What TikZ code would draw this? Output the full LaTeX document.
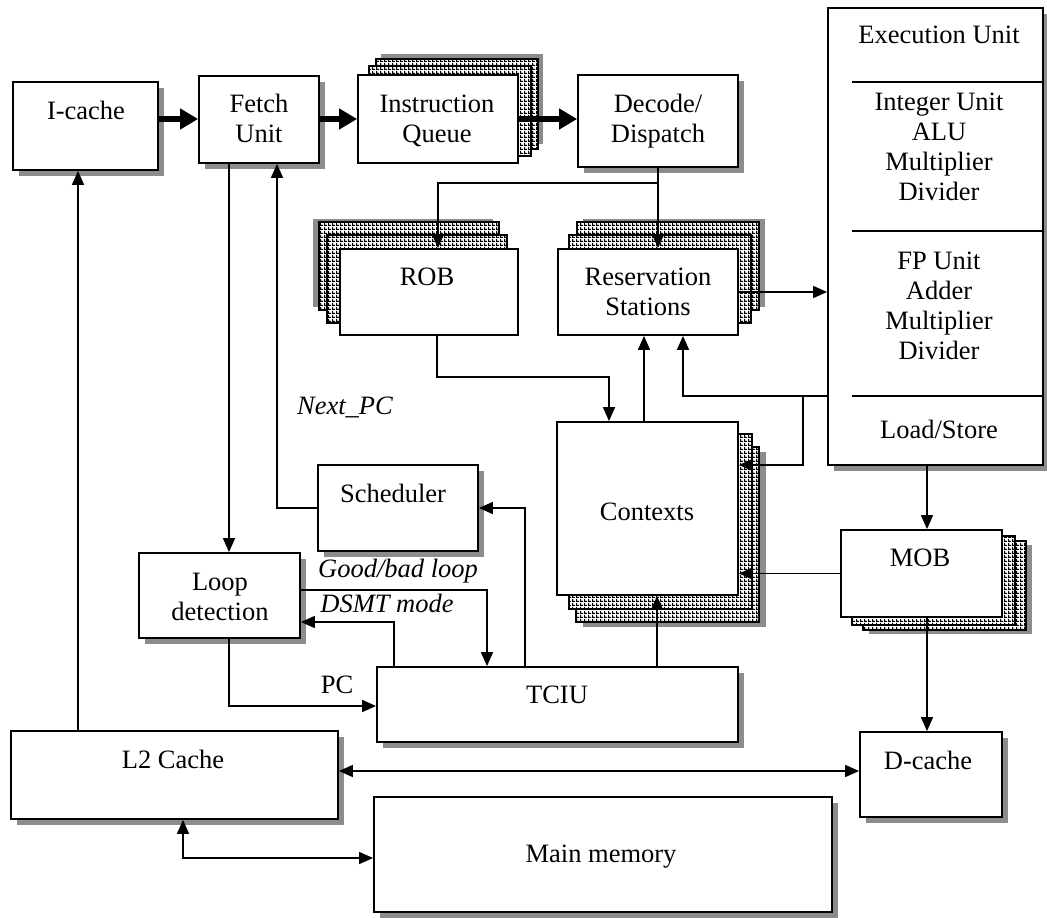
\documentclass[tikz,border=0pt]{standalone}
\usepackage{fontspec}
\setmainfont{Liberation Serif}
\usetikzlibrary{arrows.meta,calc,shadows,patterns,backgrounds}

% small white cells in a black grid, used for the stacked sheets
\pgfdeclarepatternformonly{cells}{\pgfqpoint{0pt}{0pt}}{\pgfqpoint{4pt}{4pt}}{\pgfqpoint{4pt}{4pt}}{%
  \pgfpathrectangle{\pgfqpoint{0pt}{0pt}}{\pgfqpoint{4pt}{1.3pt}}%
  \pgfpathrectangle{\pgfqpoint{0pt}{0pt}}{\pgfqpoint{1.3pt}{4pt}}%
  \pgfusepath{fill}}

% one sheet of a stack, shifted by (#2,#3) from node #1
\newcommand\stacksheet[4]{\path[#4] ($(#1.north west)+(#2,#3)$) rectangle ($(#1.south east)+(#2,#3)$);}

\begin{document}
\begin{tikzpicture}[x=1pt,y=-1pt,
  font=\fontsize{26.5}{30}\selectfont,
  box/.style={draw,line width=1.8pt,fill=white,inner sep=0pt},
  shadowed/.style={drop shadow={shadow xshift=6pt,shadow yshift=-6pt,fill=black!45,opacity=1}},
  lbl/.style={inner sep=0pt,align=center},
  wire/.style={line width=1.6pt},
  arr/.style={wire,-{Triangle[length=14pt,width=12pt]}},
  dbl/.style={wire,{Triangle[length=14pt,width=12pt]}-{Triangle[length=14pt,width=12pt]}},
  bus/.style={line width=5.5pt,-{Triangle[length=18pt,width=20pt]}},
  sheet/.style={draw,line width=1.5pt,fill=white,postaction={pattern=cells}},
  haze/.style={fill=black!45},
]
\useasboundingbox (0,0) rectangle (1047,918);

% ---------- blocks ----------
\node[box,shadowed,minimum width=145pt,minimum height=88pt] (icache) at (85.5,126) {};
\node[box,shadowed,minimum width=120pt,minimum height=87pt] (fetch) at (259,119.5) {};
\node[box,minimum width=160pt,minimum height=88pt] (iq) at (438,119) {};
\node[box,shadowed,minimum width=160pt,minimum height=92pt] (decode) at (658,121) {};
\node[box,shadowed,minimum width=215pt,minimum height=457pt] (exec) at (935.5,236.5) {};
\node[box,minimum width=178pt,minimum height=86pt] (rob) at (429,292) {};
\node[box,minimum width=180pt,minimum height=86pt] (rs) at (648,292) {};
\node[box,minimum width=181pt,minimum height=173pt] (contexts) at (647.5,508.5) {};
\node[box,shadowed,minimum width=160pt,minimum height=86pt] (scheduler) at (398,508) {};
\node[box,shadowed,minimum width=161pt,minimum height=85pt] (loop) at (219.5,595.5) {};
\node[box,minimum width=161pt,minimum height=87pt] (mob) at (921.5,573.5) {};
\node[box,shadowed,minimum width=361pt,minimum height=75pt] (tciu) at (557.5,704.5) {};
\node[box,shadowed,minimum width=327pt,minimum height=88pt] (l2) at (174.5,775) {};
\node[box,shadowed,minimum width=142pt,minimum height=85pt] (dcache) at (931,774.5) {};
\node[box,shadowed,minimum width=458pt,minimum height=115pt] (mainmem) at (603,854.5) {};

% ---------- stacked sheets behind the queues and buffers ----------
\begin{scope}[on background layer]
  \stacksheet{iq}{24}{-20}{haze}
  \stacksheet{iq}{19}{-15}{sheet}
  \stacksheet{iq}{12}{-8}{sheet}
  \stacksheet{rob}{-26}{-29}{haze}
  \stacksheet{rob}{-20}{-26}{sheet}
  \stacksheet{rob}{-12}{-13}{sheet}
  \stacksheet{rs}{26}{-29}{haze}
  \stacksheet{rs}{20}{-26}{sheet}
  \stacksheet{rs}{12}{-13}{sheet}
  \stacksheet{contexts}{27}{31}{haze}
  \stacksheet{contexts}{20}{26}{sheet}
  \stacksheet{contexts}{13}{13}{sheet}
  \stacksheet{mob}{29}{16}{haze}
  \stacksheet{mob}{23}{12}{sheet}
  \stacksheet{mob}{12}{7}{sheet}
\end{scope}

% ---------- execution unit sections ----------
\coordinate (dv) at ([xshift=25pt]exec.west);
\foreach \yy in {82,231,396}
  \draw[line width=1.8pt] (dv |- 0,\yy) -- (exec.east |- 0,\yy);

% ---------- texts ----------
\node[lbl] (icache-t) at (86,110) {I-cache};
\node[lbl] (fetch-t) at (259,118.5) {Fetch\\Unit};
\node[lbl] (iq-t) at (437,121) {Instruction\\Queue};
\node[lbl] (decode-t) at (658,121) {Decode/\\Dispatch};
\node[lbl] (exec-t) at (939,35) {Execution Unit};
\node[lbl] (int-t) at (939,147) {Integer Unit\\ALU\\Multiplier\\Divider};
\node[lbl] (fp-t) at (939,306) {FP Unit\\Adder\\Multiplier\\Divider};
\node[lbl] (ls-t) at (939,429) {Load/Store};
\node[lbl] (rob-t) at (427,277) {ROB};
\node[lbl] (rs-t) at (648,292) {Reservation\\Stations};
\node[lbl] (contexts-t) at (647,512) {Contexts};
\node[lbl] (scheduler-t) at (393,493) {Scheduler};
\node[lbl] (loop-t) at (220,597) {Loop\\detection};
\node[lbl] (mob-t) at (920,558) {MOB};
\node[lbl] (tciu-t) at (557,695) {TCIU};
\node[lbl] (l2-t) at (173,759) {L2 Cache};
\node[lbl] (dcache-t) at (928,760) {D-cache};
\node[lbl] (mainmem-t) at (601,857) {Main memory};
\node[lbl] (nextpc-t) at (345,407) {\itshape Next\_PC};
\node[lbl] (goodbad-t) at (398,571) {\itshape Good/bad loop};
\node[lbl] (dsmt-t) at (387,603) {\itshape DSMT mode};
\node[lbl] (pc-t) at (337,685) {PC};

% ---------- front-end bus ----------
\coordinate (busrow) at (0,119);
\draw[bus] (icache.east |- busrow) -- (fetch.west |- busrow);
\draw[bus] (fetch.east |- busrow) -- (iq.west |- busrow);
\draw[bus] (iq.east |- busrow) -- (decode.west |- busrow);

% ---------- dispatch ----------
\coordinate (dsplit) at (0,183);
\draw[arr] (decode.south) -- (decode.south |- rs.north);
\draw[arr] (decode.south |- dsplit) -| ([xshift=9pt]rob.north);
\draw[arr] (rs.east) -- (rs.east -| exec.west);

% ---------- commit / write-back ----------
\draw[arr] ([xshift=8pt]rob.south) -- ++(0,41) -| ([xshift=-38.5pt]contexts.north);
\draw[arr] ([xshift=-3.5pt]contexts.north) -- ([xshift=-3.5pt]contexts.north |- rs.south);
\coordinate (ret) at (exec.west |- 0,396);
\coordinate (retsplit) at (803,396);
\draw[arr] (ret) -| ([xshift=35pt]rs.south);
\draw[arr] (retsplit) |- ([yshift=43.5pt]contexts.east);
\draw[arr] (mob.west) -- (mob.west -| contexts.east);

% ---------- memory side ----------
\coordinate (mobin) at ([xshift=5.5pt]mob.north);
\draw[arr] (mobin |- exec.south) -- (mobin);
\draw[arr] (mobin |- mob.south) -- (mobin |- dcache.north);

% ---------- thread control ----------
\coordinate (fl) at (229,0);
\coordinate (np) at (277,0);
\coordinate (ts) at (525,0);
\coordinate (gb) at (487,0);
\coordinate (dm) at (394,0);
\coordinate (cb) at ([xshift=9.5pt]contexts.south);
\draw[arr] (fl |- fetch.south) -- (fl |- loop.north);
\draw[arr] (scheduler.west) -| (np |- fetch.south);
\draw[arr] (ts |- tciu.north) |- (scheduler.east);
\draw[arr] ([yshift=5.5pt]loop.east) -| (gb |- tciu.north);
\draw[arr] (dm |- tciu.north) |- ([yshift=-26.5pt]loop.east);
\draw[arr] ([xshift=9.5pt]loop.south) |- ([yshift=-1.5pt]tciu.west);
\draw[arr] (cb |- tciu.north) -- (cb);

% ---------- caches ----------
\coordinate (li) at (78,0);
\coordinate (lb) at (0,771);
\coordinate (lm) at (183,0);
\draw[arr] (li |- l2.north) -- (li |- icache.south);
\draw[dbl] (l2.east |- lb) -- (dcache.west |- lb);
\draw[dbl] (lm |- l2.south) |- ([yshift=-3.5pt]mainmem.west);
\end{tikzpicture}
\end{document}
